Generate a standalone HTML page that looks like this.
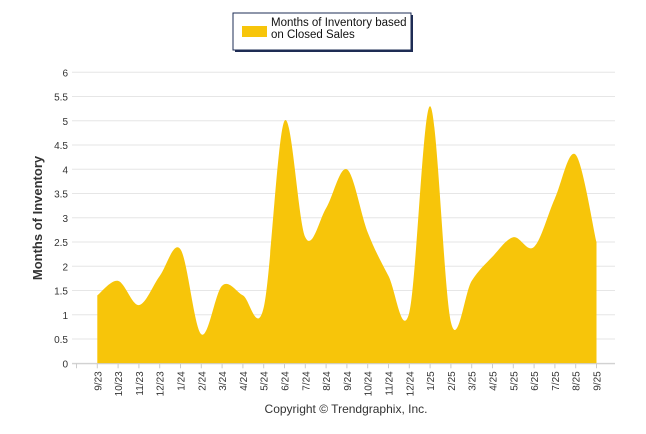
<!DOCTYPE html>
<html><head><meta charset="utf-8"><style>
body{margin:0;background:#fff;font-family:"Liberation Sans",sans-serif}
svg{display:block}
</style></head><body>
<svg width="646" height="434">
<g id="grid"></g>
<g id="yt"></g>
<path id="area" fill="#F7C50A"/>
<g id="xt"></g>
<text transform="translate(42,218) rotate(-90)" text-anchor="middle" font-size="13" font-weight="bold" fill="#333">Months of Inventory</text>
<text x="346" y="413" text-anchor="middle" font-size="12" fill="#333">Copyright © Trendgraphix, Inc.</text>
<g>
<rect x="235" y="15" width="178" height="37" fill="#1e2c54"/>
<rect x="233" y="13" width="178" height="37" fill="#fff" stroke="#1e2c54" stroke-width="1"/>
<rect x="242" y="26" width="25" height="11" fill="#F7C50A"/>
<text x="271" y="26" font-size="11.5" fill="#111">Months of Inventory based</text>
<text x="271" y="38" font-size="11.5" fill="#111">on Closed Sales</text>
</g>
</svg>
<script>
const categories=["9/23","10/23","11/23","12/23","1/24","2/24","3/24","4/24","5/24","6/24","7/24","8/24","9/24","10/24","11/24","12/24","1/25","2/25","3/25","4/25","5/25","6/25","7/25","8/25","9/25"];
const values=[1.4,1.7,1.2,1.8,2.35,0.6,1.6,1.4,1.15,5.0,2.6,3.2,4.0,2.7,1.8,1.05,5.3,0.85,1.7,2.2,2.6,2.4,3.4,4.3,2.5];
const yTicks=[0,0.5,1,1.5,2,2.5,3,3.5,4,4.5,5,5.5,6];
const NS="http://www.w3.org/2000/svg";
const x0=97.3,dx=20.8,y0=363.3,yk=48.5,left=72,right=615;
const X=i=>x0+i*dx, Y=v=>y0-v*yk;
function mk(t,a,p){const e=document.createElementNS(NS,t);for(const k in a)e.setAttribute(k,a[k]);p.appendChild(e);return e;}
const grid=document.getElementById('grid'),yt=document.getElementById('yt'),xt=document.getElementById('xt');
yTicks.forEach(v=>{
 const l=mk('line',{x1:left,x2:right,y1:Y(v),y2:Y(v),stroke:'#e6e6e6','stroke-width':1},grid);
 
 
 const t=mk('text',{x:68,y:Y(v)+4,'text-anchor':'end','font-size':10,fill:'#333'},yt);
 
 
 t.textContent=v;
});
mk('line',{x1:left,x2:right,y1:y0+0.5,y2:y0+0.5,stroke:'#ccc'},xt);
mk('line',{x1:X(-1),x2:X(-1),y1:y0,y2:y0+5,stroke:'#ccc'},xt);
categories.forEach((c,i)=>{
 mk('line',{x1:X(i),x2:X(i),y1:y0,y2:y0+5,stroke:'#ccc'},xt);
 const t=mk('text',{transform:`translate(${X(i)+4},${y0+8}) rotate(-90)`,'text-anchor':'end','font-size':10,fill:'#333'},xt);
 
 
 t.textContent=c;
});
const pts=values.map((v,i)=>[X(i),Y(v)]);
let d=`M${pts[0][0]},${y0}L${pts[0][0]},${pts[0][1]}`;
for(let i=0;i<pts.length-1;i++){
 const p0=pts[i-1]||pts[i],p1=pts[i],p2=pts[i+1],p3=pts[i+2]||p2;
 const c1=[p1[0]+(p2[0]-p0[0])/6,p1[1]+(p2[1]-p0[1])/6];
 const c2=[p2[0]-(p3[0]-p1[0])/6,p2[1]-(p3[1]-p1[1])/6];
 d+=`C${c1[0]},${c1[1]} ${c2[0]},${c2[1]} ${p2[0]},${p2[1]}`;
}
d+=`L${pts[pts.length-1][0]},${y0}Z`;
document.getElementById('area').setAttribute('d',d);
</script>
</body></html>
